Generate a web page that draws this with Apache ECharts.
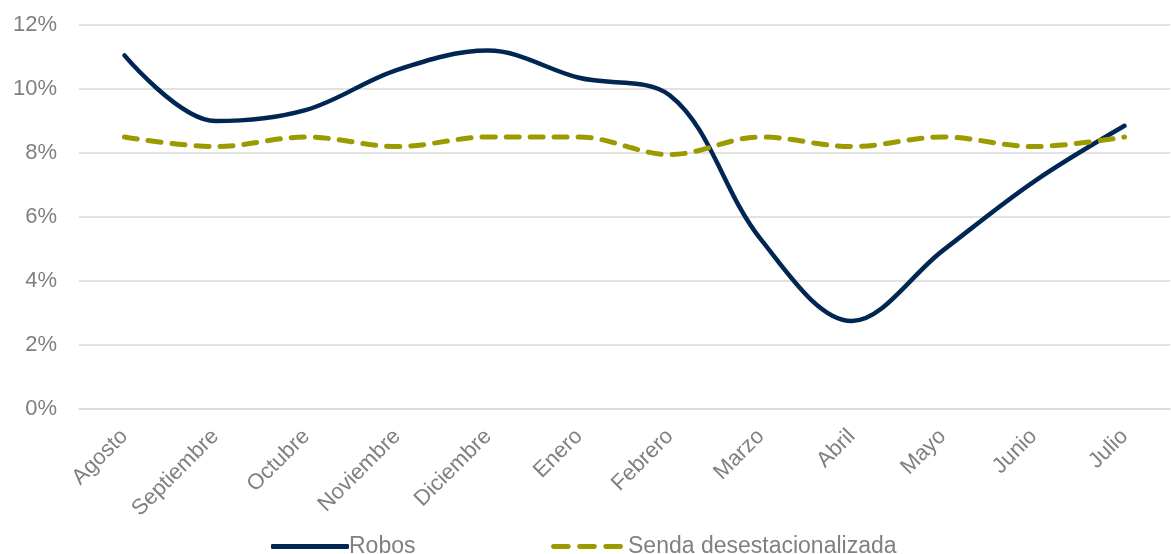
<!DOCTYPE html>
<html><head><meta charset="utf-8">
<script src="https://cdn.jsdelivr.net/npm/echarts@6/dist/echarts.min.js"></script>
<style>html,body{margin:0;padding:0;background:#fff}#c{width:1171px;height:554px}</style>
</head><body><div id="c"></div>
<script>
const categories = ['Agosto','Septiembre','Octubre','Noviembre','Diciembre','Enero','Febrero','Marzo','Abril','Mayo','Junio','Julio'];
const robos = [11.05, 9.0, 9.35, 10.6, 11.2, 10.35, 9.8, 5.3, 2.75, 4.95, 7.1, 8.85];
const senda = [8.5, 8.2, 8.5, 8.2, 8.5, 8.5, 7.95, 8.5, 8.2, 8.5, 8.2, 8.5];
const yTicks = [0, 2, 4, 6, 8, 10, 12];

const chart = echarts.init(document.getElementById('c'));
const font = '"Liberation Sans", Arial, sans-serif';
chart.setOption({
  animation: false,
  grid: {left: 79, right: 1, top: 25, bottom: 145},
  legend: [
    {data: ['Robos'], left: 266, top: 530, itemWidth: 78, itemHeight: 5, itemGap: 0,
     icon: 'roundRect',
     textStyle: {color: '#808080', fontSize: 23, fontFamily: font, padding: [0,0,0,-5]}},
    {data: ['Senda desestacionalizada'], left: 546, top: 530, itemWidth: 72, itemHeight: 5,
     icon: 'path://M2.5,0h15a2.5,2.5 0 0 1 0,5h-15a2.5,2.5 0 0 1 0,-5z M29,0h15a2.5,2.5 0 0 1 0,5h-15a2.5,2.5 0 0 1 0,-5z M55.5,0h15a2.5,2.5 0 0 1 0,5h-15a2.5,2.5 0 0 1 0,-5z',
     textStyle: {color: '#808080', fontSize: 23, fontFamily: font}}
  ],
  xAxis: {
    type: 'category', data: categories, boundaryGap: true,
    axisLine: {lineStyle: {color: '#d9d9d9', width: 1.5}},
    axisTick: {show: false},
    axisLabel: {rotate: 45, color: '#808080', fontSize: 22, fontFamily: font, margin: 24}
  },
  yAxis: {
    type: 'value', min: yTicks[0], max: yTicks[yTicks.length-1], interval: 2,
    axisLabel: {formatter: v => v + '%', color: '#808080', fontSize: 22, fontFamily: font, margin: 22},
    splitLine: {lineStyle: {color: '#d9d9d9', width: 1.5}},
    axisLine: {show: false}, axisTick: {show: false}
  },
  series: [
    {name: 'Robos', type: 'line', data: robos, smooth: 0.35, symbol: 'none',
     lineStyle: {color: '#002654', width: 4.5, cap: 'round'}, itemStyle: {color: '#002654'}},
    {name: 'Senda desestacionalizada', type: 'line', data: senda, smooth: 0.35, symbol: 'none',
     lineStyle: {color: '#9b9b00', width: 5, type: [13, 11], cap: 'round'}, itemStyle: {color: '#9b9b00'}}
  ]
});
</script></body></html>
